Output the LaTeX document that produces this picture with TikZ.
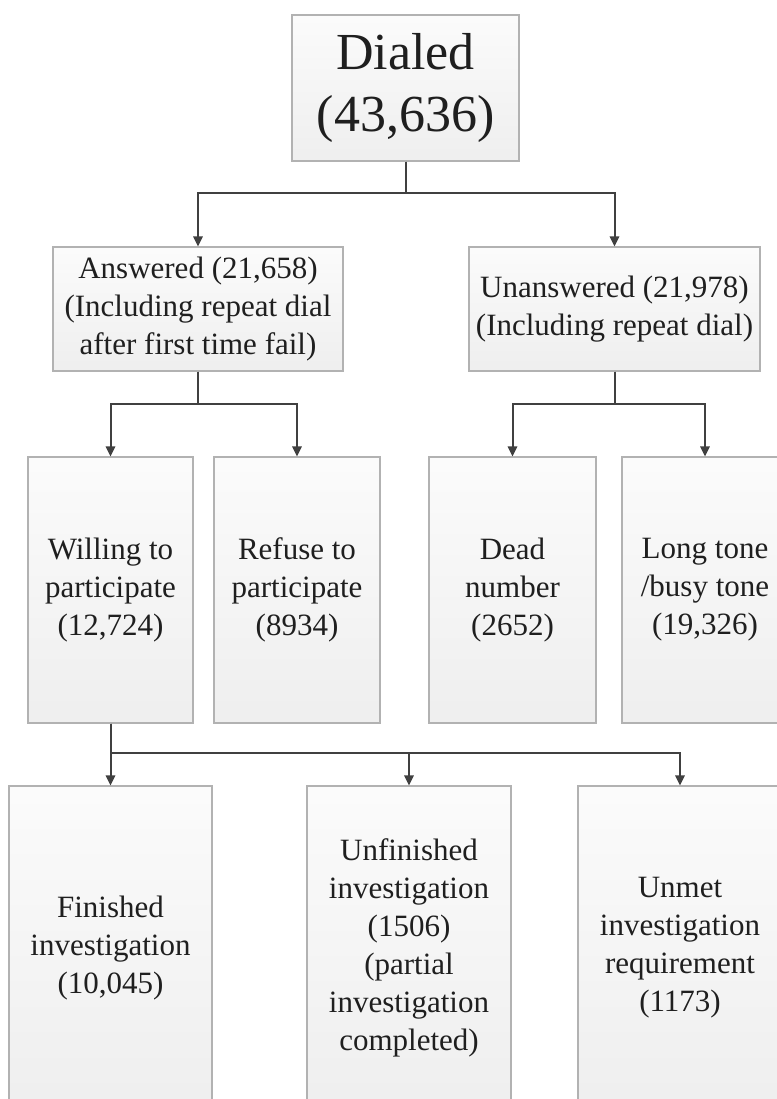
\documentclass[tikz,border=0pt]{standalone}
\usepackage{fontspec}
\setmainfont{Liberation Serif}
\usetikzlibrary{arrows.meta,shadows}
\begin{document}
\begin{tikzpicture}[x=0.75pt,y=-0.75pt,
  box/.style={draw=gray!60, line width=0.9pt, top color=gray!3, bottom color=gray!13,
    align=center, text=black!88, inner sep=0pt,
    drop shadow={shadow xshift=1pt, shadow yshift=-1pt, opacity=0.25, fill=gray},
    font=\fontsize{23.25}{28.5}\selectfont},
  sz/.style 2 args={minimum width=#1*0.75pt, minimum height=#2*0.75pt},
  arr/.style={draw=black!75, line width=1.5pt, -{Triangle[length=7.5pt,width=7pt]}}]
\useasboundingbox (0,0) rectangle (777,1099);
\clip (0,0) rectangle (777,1099);
\fill[white] (0,0) rectangle (777,1099);

\node[box, sz={227}{146}, font=\fontsize{39}{46.5}\selectfont] (dialed) at (405.5,88) {Dialed\\(43,636)};

\node[box, sz={290}{124}] (ans) at (198,309) {Answered (21,658)\\(Including repeat dial\\after first time fail)};
\node[box, sz={291}{124}] (unans) at (614.5,309) {Unanswered (21,978)\\(Including repeat dial)};

\node[box, sz={165}{266}] (willing) at (110.5,590) {Willing to\\participate\\(12,724)};
\node[box, sz={166}{266}] (refuse) at (297,590) {Refuse to\\participate\\(8934)};
\node[box, sz={167}{266}] (dead) at (512.5,590) {Dead\\number\\(2652)};
\node[box, sz={166}{266}] (long) at (705,590) {Long tone\\/busy tone\\(19,326)};

\node[box, sz={203}{324}] (fin) at (110.5,948) {Finished\\investigation\\(10,045)};
\node[box, sz={204}{324}] (unfin) at (409,948) {Unfinished\\investigation\\(1506)\\(partial\\investigation\\completed)};
\node[box, sz={204}{324}] (unmet) at (680,948) {Unmet\\investigation\\requirement\\(1173)};

\draw[arr] (dialed.south) -- ++(0,31) -| (ans.north);
\draw[arr] (dialed.south) -- ++(0,31) -| (unans.north);

\draw[arr] (ans.south) -- ++(0,32) -| (willing.north);
\draw[arr] (ans.south) -- ++(0,32) -| (refuse.north);
\draw[arr] (unans.south) -- ++(0,32) -| (dead.north);
\draw[arr] (unans.south) -- ++(0,32) -| (long.north);

\draw[arr] (willing.south) -- (fin.north);
\draw[arr] (willing.south) -- ++(0,29) -| (unfin.north);
\draw[arr] (willing.south) -- ++(0,29) -| (unmet.north);
\end{tikzpicture}
\end{document}
